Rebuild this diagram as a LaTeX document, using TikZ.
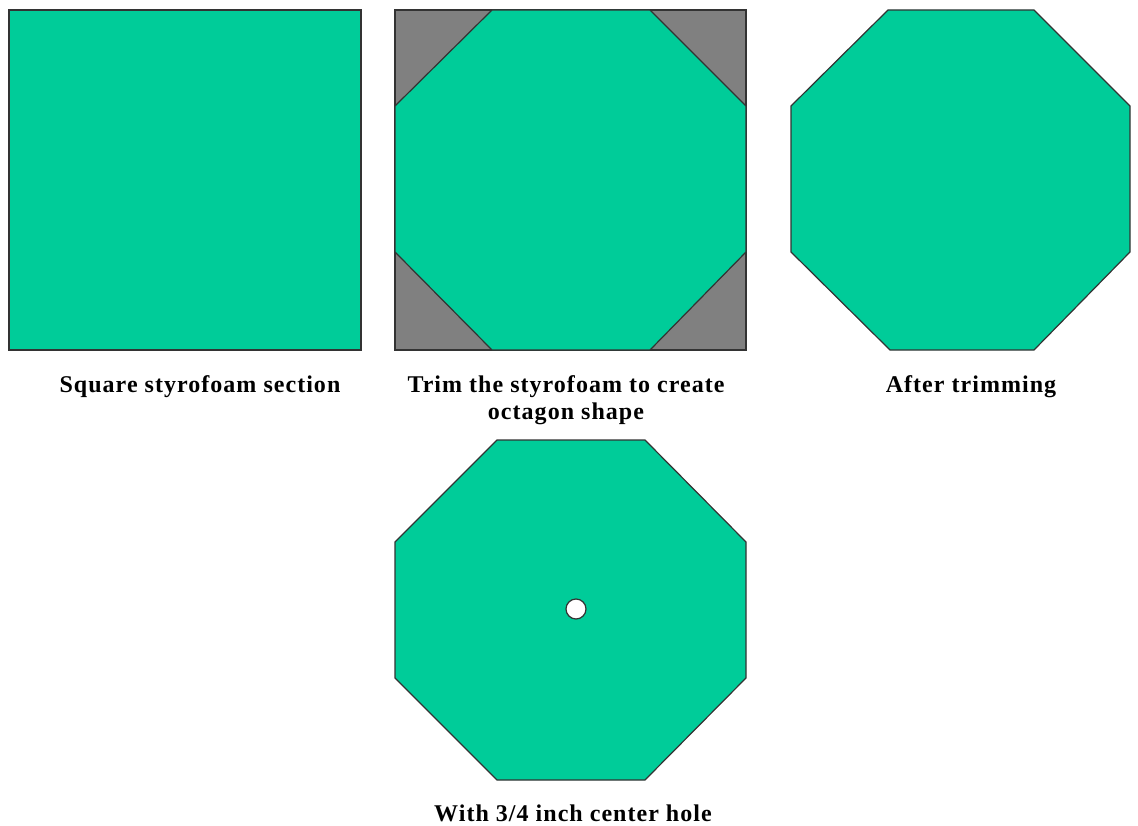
\documentclass[tikz,border=0pt]{standalone}
\usepackage{fontspec}
\setmainfont{Liberation Serif}
\definecolor{foam}{HTML}{00CC99}
\definecolor{trim}{HTML}{808080}
\definecolor{edge}{HTML}{333333}
\begin{document}
\begin{tikzpicture}[x=1pt,y=-1pt,
  foamshape/.style={fill=foam,draw=edge,line width=1.2pt,line join=miter},
  cutpart/.style={fill=trim,draw=edge,line width=1.2pt},
  lbl/.style={font=\fontsize{24}{27}\selectfont\bfseries\addfontfeatures{LetterSpace=4.3},align=center,inner sep=0pt,anchor=base}]
\useasboundingbox (0,0) rectangle (1138,826);
% square
\draw[foamshape] (9,10) rectangle (361,350);
% trimmed square
\draw[cutpart] (395,10) rectangle (746,350);
\draw[foamshape] (492,10) -- (650,10) -- (746,106) -- (746,252) -- (650,350) -- (492,350) -- (395,252) -- (395,106) -- cycle;
% after trimming
\draw[foamshape] (888,10) -- (1034,10) -- (1130,106) -- (1130,252) -- (1034,350) -- (890,350) -- (791,252) -- (791,106) -- cycle;
% with hole
\draw[foamshape] (497,440) -- (645,440) -- (746,542) -- (746,678) -- (645,780) -- (497,780) -- (395,678) -- (395,542) -- cycle;
\draw[fill=white,draw=edge,line width=1.2pt] (576,609) circle (10);
% labels
\node[lbl] (l1) at (200,392) {Square styrofoam section};
\node[lbl] (l2) at (566,419) {Trim the styrofoam to create\\octagon shape};
\node[lbl] (l3) at (971,392) {After trimming};
\node[lbl] (l4) at (573,821) {With 3/4 inch center hole};
\end{tikzpicture}
\end{document}
